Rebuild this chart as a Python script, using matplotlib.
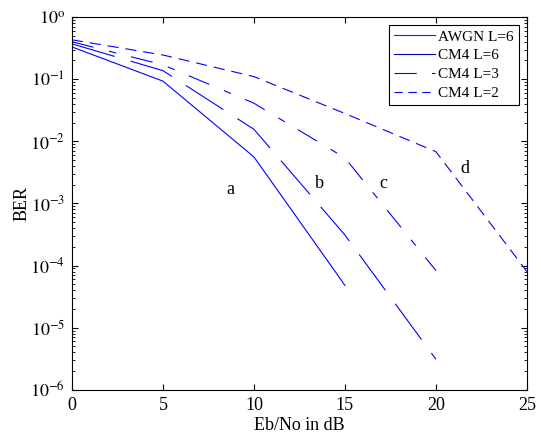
import matplotlib
matplotlib.use("Agg")
import matplotlib.pyplot as plt
from matplotlib.lines import Line2D
from matplotlib.ticker import LogLocator, NullFormatter

plt.rcParams['font.family'] = ['Liberation Serif', 'DejaVu Serif']
plt.rcParams['mathtext.fontset'] = 'stix'
plt.rcParams['lines.scale_dashes'] = False

# Eb/No (dB) and BER values
snr_awgn = [0, 5, 10, 15]
ber_awgn = [0.33, 0.093, 5.6e-3, 4.8e-5]

snr_l6 = [0, 5, 10, 15, 20]
ber_l6 = [0.37, 0.137, 0.0156, 3.1e-4, 3.1e-6]

snr_l3 = [0, 5, 10, 15, 20]
ber_l3 = [0.40, 0.17, 0.041, 5.4e-3, 8.3e-5]

snr_l2 = [0, 5, 10, 15, 20, 25]
ber_l2 = [0.43, 0.245, 0.11, 0.028, 6.8e-3, 8e-5]

legend_labels = ['AWGN L=6', 'CM4 L=6', 'CM4 L=3', 'CM4 L=2']
curve_tags = ['a', 'b', 'c', 'd']
tag_x = [8.7, 13.6, 17.1, 21.6]
tag_y = [1.65e-3, 2.1e-3, 2.1e-3, 3.7e-3]

fig = plt.figure(figsize=(5.41, 4.37), dpi=100)
ax = fig.add_axes([0.133, 0.108, 0.841, 0.853])

lw = 0.8
ax.semilogy(snr_awgn, ber_awgn, color='#0000ff', lw=lw)
ax.semilogy(snr_l6, ber_l6, color='#0000ff', lw=lw, dashes=(32, 12))
ax.semilogy(snr_l3, ber_l3, color='#0000ff', lw=lw, dashes=(16, 11.5, 5.4, 11))
ax.semilogy(snr_l2, ber_l2, color='#0000ff', lw=lw, dashes=(8, 5))

for t, x, y in zip(curve_tags, tag_x, tag_y):
    ax.text(x, y, t, ha='center', va='center', fontsize=13)

ax.set_xlim(0, 25)
ax.set_ylim(1e-6, 1)
ax.set_xticks([0, 5, 10, 15, 20, 25])
ax.set_yticks([10.0**k for k in range(-6, 1)])
ax.set_yticklabels(['$10^{%d}$' % k if k != 0 else '$10^{\\mathrm{o}}$' for k in range(-6, 1)])
ax.yaxis.set_minor_locator(LogLocator(base=10, subs=range(2, 10), numticks=20))
ax.yaxis.set_minor_formatter(NullFormatter())
ax.tick_params(which='both', direction='in', top=True, right=True, labelsize=13, pad=5)
ax.tick_params(which='major', length=4)
ax.tick_params(which='minor', length=2)
ax.set_xlabel('Eb/No in dB', fontsize=13, labelpad=2)
ax.set_ylabel('BER', fontsize=13, labelpad=0)

handles = [
    Line2D([], [], color='#2020ff', lw=lw),
    Line2D([], [], color='#0000c0', lw=lw),
    Line2D([], [], color='#0000ff', lw=lw, dashes=(16, 11, 3, 11)),
    Line2D([], [], color='#0000ff', lw=lw, dashes=(6, 4)),
]
leg = ax.legend(handles, legend_labels, loc='upper right', fontsize=11,
                fancybox=False, edgecolor='black', framealpha=1,
                handlelength=2.7, handletextpad=0.2, borderpad=0.3,
                labelspacing=0.33, borderaxespad=0.55)
leg.get_frame().set_linewidth(0.8)

fig.savefig('out.png', dpi=100)
